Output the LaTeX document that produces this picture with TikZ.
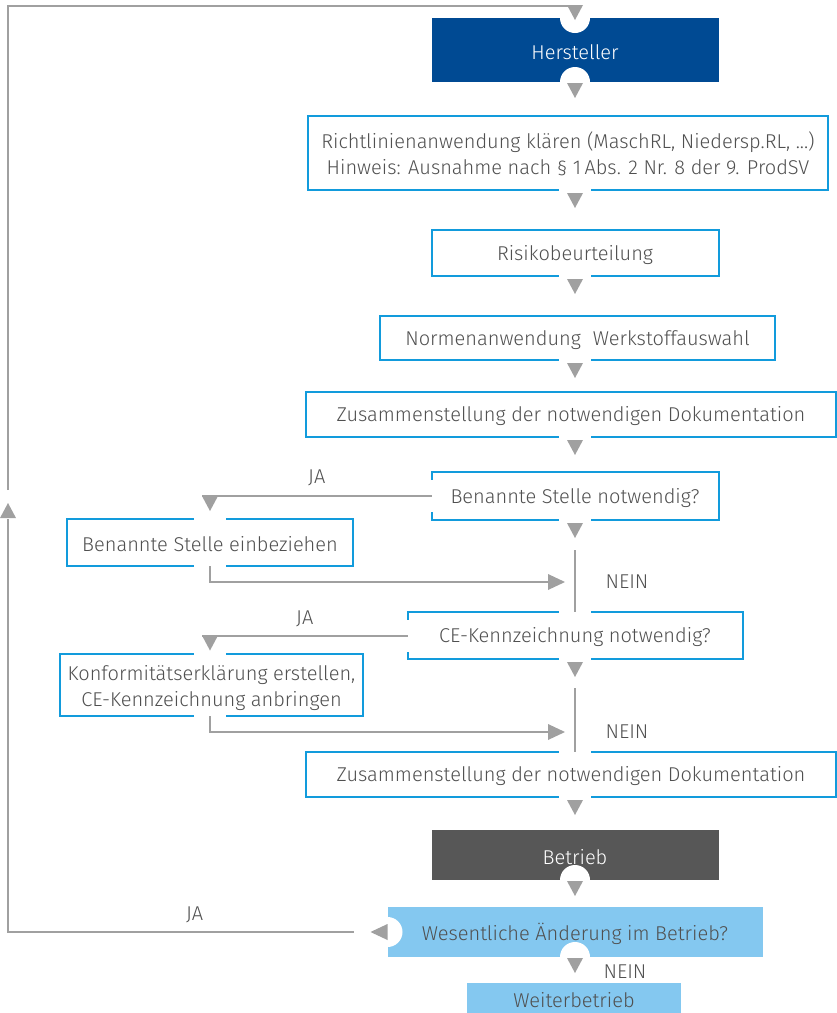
\documentclass[tikz,border=0pt]{standalone}
\usepackage{fontspec}
\setmainfont{Fira Sans Light}
\usetikzlibrary{calc}
\definecolor{dblue}{RGB}{0,74,147}
\definecolor{lblue}{RGB}{132,200,240}
\definecolor{dgraybox}{RGB}{87,87,87}
\definecolor{bstroke}{RGB}{18,155,220}
\definecolor{agray}{RGB}{160,160,160}
\definecolor{tgray}{RGB}{80,80,80}
\newcommand\diagfont{\fontsize{20}{26.5}\selectfont}
\newcommand\lowtxt[2][2pt]{\raisebox{-#1}[\height][\depth]{#2}}
\newcommand\twolines[2]{\lowtxt[3pt]{\begin{tabular}{@{}c@{}}#1\\#2\end{tabular}}}
\begin{document}
\begin{tikzpicture}[x=1pt,y=-1pt,
  box/.style={draw=bstroke, line width=2pt, fill=white, inner sep=0pt, outer sep=0pt, text=tgray, font=\diagfont, align=center},
  fbox/.style={fill=#1, inner sep=0pt, outer sep=0pt, font=\diagfont, align=center},
  conn/.style={draw=agray, line width=2pt},
  lbl/.style={text=tgray, font=\diagfont},
  tdown/.pic={\fill[agray] (-8,0) -- (8,0) -- (0,15) -- cycle;},
  tup/.pic={\fill[agray] (-8,15) -- (8,15) -- (0,0) -- cycle;},
  tright/.pic={\fill[agray] (-17,-8) -- (-17,8) -- (0,0) -- cycle;},
  tleft/.pic={\fill[agray] (17,-8) -- (17,8) -- (0,0) -- cycle;},
  hgap/.pic={\fill[white] (-16,-3) rectangle (16,3);},
  vgap/.pic={\fill[white] (-3,-16) rectangle (3,16);}
]
\useasboundingbox (0,0) rectangle (837,1013);

% nodes
\node[fbox=dblue, text=white, minimum width=287pt, minimum height=64pt] (her) at (575,50) {\lowtxt{Hersteller}};
\node[box, minimum width=520pt, minimum height=74pt] (rl) at (568,153) {\twolines{Richtlinienanwendung klären (MaschRL, Niedersp.RL, ...)}{Hinweis: Ausnahme nach § 1\,Abs. 2 Nr. 8 der 9. ProdSV}};
\node[box, minimum width=287pt, minimum height=46pt] (risk) at (575,253) {\lowtxt{Risikobeurteilung}};
\node[box, minimum width=395pt, minimum height=44pt] (norm) at (577.5,338) {\lowtxt{Normenanwendung\hspace{0.6em}Werkstoffauswahl}};
\node[box, minimum width=530pt, minimum height=45pt] (doc1) at (571,414.5) {\lowtxt{Zusammenstellung der notwendigen Dokumentation}};
\node[box, minimum width=287pt, minimum height=48pt] (bsn) at (575,496) {\lowtxt{Benannte Stelle notwendig?}};
\node[box, minimum width=286pt, minimum height=47pt] (bse) at (210,542.5) {\lowtxt{Benannte Stelle einbeziehen}};
\node[box, minimum width=335pt, minimum height=47pt] (cen) at (575,635.5) {\lowtxt{CE-Kennzeichnung notwendig?}};
\node[box, minimum width=303pt, minimum height=62pt] (kon) at (211.5,685) {\twolines{Konformitätserklärung erstellen,}{CE-Kennzeichnung anbringen}};
\node[box, minimum width=530pt, minimum height=45pt] (doc2) at (571,774.5) {\lowtxt{Zusammenstellung der notwendigen Dokumentation}};
\node[fbox=dgraybox, text=white, minimum width=287pt, minimum height=50pt] (bet) at (575,855) {\lowtxt{Betrieb}};
\node[fbox=lblue, text=tgray, minimum width=375pt, minimum height=50pt] (wes) at (575,932) {\lowtxt{Wesentliche Änderung im Betrieb?}};
\node[fbox=lblue, text=tgray, minimum width=214pt, minimum height=30pt] (wei) at (574,998) {\lowtxt{Weiterbetrieb}};

\coordinate (L) at (8,0);
\coordinate (j1) at (575,582);
\coordinate (j2) at (575,732);

% cutouts
\fill[white] (her.north) circle (15pt);
\fill[white] (her.south) circle (15pt);
\fill[white] (bet.south) circle (15pt);
\fill[white] (wes.south) circle (15pt);
\fill[white] (wes.west) circle (15pt);

% border gaps
\pic at (rl.south -| her.south) {hgap};
\pic at (risk.south) {hgap};
\pic at (norm.south -| her.south) {hgap};
\pic at (doc1.south -| her.south) {hgap};
\pic at (bsn.south) {hgap};
\pic at (bsn.west) {vgap};
\pic at (cen.north) {hgap};
\pic at (cen.south) {hgap};
\pic at (cen.west) {vgap};
\pic at (doc2.north -| her.north) {hgap};
\pic at (doc2.south -| her.south) {hgap};
\pic at (bse.north) {hgap};
\pic at (bse.south) {hgap};
\pic at (kon.north -| bse.north) {hgap};
\pic at (kon.south -| bse.south) {hgap};

% connectors
\draw[conn] ($(wes.west)+(-34,0)$) -| (L |- bse.north) node[lbl, pos=0.23, yshift=17pt] {JA};
\pic at ($(L |- bse.north)+(0,-16)$) {tup};
\draw[conn] ($(L |- bsn.west)+(0,-6)$) |- ($(her.north)+(0,-12)$);
\pic at ($(her.north)+(0,-13)$) {tdown};
\pic at ($(wes.west)+(-17,0)$) {tleft};

\pic at ($(her.south)+(0,1)$) {tdown};
\pic at ($(rl.south -| her.south)+(0,3)$) {tdown};
\pic at ($(risk.south)+(0,3)$) {tdown};
\pic at ($(norm.south -| her.south)+(0,3)$) {tdown};
\pic at ($(doc1.south -| her.south)+(0,3)$) {tdown};
\pic at ($(bsn.south)+(0,3)$) {tdown};
\pic at ($(cen.south)+(0,3)$) {tdown};
\pic at ($(doc2.south -| her.south)+(0,3)$) {tdown};
\pic at ($(bet.south)+(0,1)$) {tdown};
\pic at ($(wes.south)+(0,1)$) {tdown};

% JA branch 1
\draw[conn] (bsn.west) -- ($(bsn.west -| bse.north)+(-8,0)$) node[lbl, midway, yshift=18pt] {JA};
\pic at (bsn.west -| bse.north) {tdown};
\draw[conn] (bse.south) |- ($(j1)+(-27,0)$);
\pic at ($(j1)+(-10,0)$) {tright};
\draw[conn] ($(bsn.south)+(0,30)$) -- (cen.north);
\node[lbl] (nein1) at ($(j1)+(52,0)$) {NEIN};

% JA branch 2
\draw[conn] (cen.west) -- ($(cen.west -| bse.north)+(-8,0)$) node[lbl, midway, yshift=17pt] {JA};
\pic at (cen.west -| bse.north) {tdown};
\draw[conn] (kon.south -| bse.south) |- ($(j2)+(-27,0)$);
\pic at ($(j2)+(-10,0)$) {tright};
\draw[conn] ($(cen.south)+(0,29)$) -- (doc2.north -| cen.north);
\node[lbl] (nein2) at ($(j2)+(52,0)$) {NEIN};

\node[lbl] (nein3) at ($(wes.south)+(50,15)$) {NEIN};
\end{tikzpicture}
\end{document}
